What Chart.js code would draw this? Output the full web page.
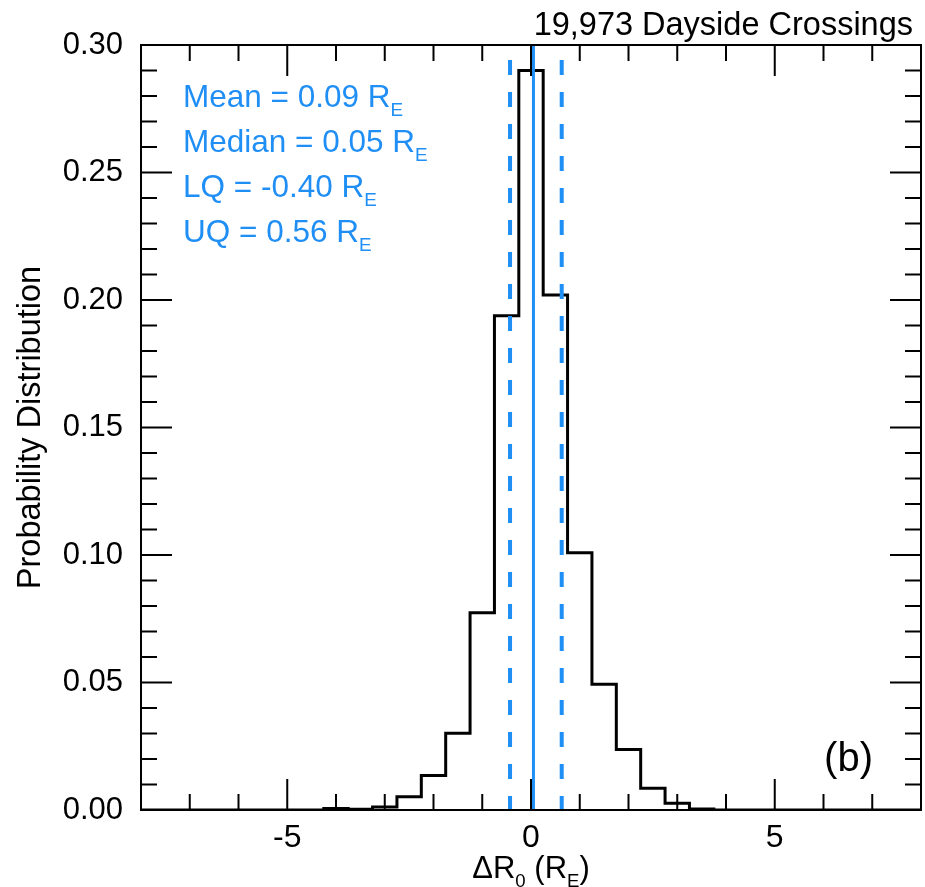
<!DOCTYPE html>
<html>
<head>
<meta charset="utf-8">
<script src="https://cdn.jsdelivr.net/npm/chart.js@4"></script>
<style>
  body { margin: 0; background: #fff; }
  #wrap { width: 925px; height: 887px; position: relative; }
</style>
</head>
<body>
<div id="wrap"><canvas id="histChart"></canvas></div>
<script>
// Histogram bins (centres, R_E) and fraction of crossings per bin
const binCenters = [-8, -7.5, -7, -6.5, -6, -5.5, -5, -4.5, -4, -3.5, -3, -2.5, -2, -1.5, -1, -0.5,
    0, 0.5, 1, 1.5, 2, 2.5, 3, 3.5, 4, 4.5, 5, 5.5, 6, 6.5, 7, 7.5, 8];
const probability = [0, 0, 0, 0, 0, 0, 0, 0, 0.0006, 0.0003, 0.0012, 0.0052, 0.0135, 0.0301, 0.0774, 0.1938,
    0.290, 0.202, 0.1009, 0.0493, 0.0237, 0.0085, 0.0026, 0.0004, 0, 0, 0, 0, 0, 0, 0, 0, 0];

// Vertical marker lines
const medianLine = 0.05;
const quartileLines = [-0.43, 0.63];

// Axis ticks
const xTickValues = [-5, 0, 5];
const yTickValues = [0, 0.05, 0.10, 0.15, 0.20, 0.25, 0.30];

const statsLabels = ['Mean = 0.09', 'Median = 0.05', 'LQ = -0.40', 'UQ = 0.56'];
const panelTitle = '19,973 Dayside Crossings';
const panelTag = '(b)';

const FONT = '"Liberation Sans", Helvetica, Arial, sans-serif';
const BLUE = '#1f8ef5';

// text with subscript pieces
function drawRich(ctx, parts, x, y, size) {
    let cx = x;
    parts.forEach(p => {
        const s = p.sub ? size * 0.6 : size;
        ctx.font = `${s}px ${FONT}`;
        ctx.fillText(p.t, cx, p.sub ? y + size * 0.3 : y);
        cx += ctx.measureText(p.t).width;
    });
    return cx - x;
}

function richWidth(ctx, parts, size) {
    let w = 0;
    parts.forEach(p => {
        ctx.font = `${p.sub ? size * 0.6 : size}px ${FONT}`;
        w += ctx.measureText(p.t).width;
    });
    return w;
}

const framePlugin = {
    id: 'frame',
    afterDraw(chart) {
        const { ctx, chartArea: a, scales } = chart;
        const xs = scales.x, ys = scales.y;
        ctx.save();
        ctx.strokeStyle = '#000';
        ctx.lineWidth = 2;
        ctx.strokeRect(a.left, a.top, a.right - a.left, a.bottom - a.top);

        // inward ticks on all four sides
        ctx.beginPath();
        for (let v = -8; v <= 8; v++) {
            const px = xs.getPixelForValue(v);
            const len = v % 5 === 0 ? 31 : 16;
            ctx.moveTo(px, a.bottom); ctx.lineTo(px, a.bottom - len);
            ctx.moveTo(px, a.top); ctx.lineTo(px, a.top + len);
        }
        for (let i = 0; i <= 30; i++) {
            const py = ys.getPixelForValue(i / 100);
            const len = i % 5 === 0 ? 31 : 16;
            ctx.moveTo(a.left, py); ctx.lineTo(a.left + len, py);
            ctx.moveTo(a.right, py); ctx.lineTo(a.right - len, py);
        }
        ctx.stroke();

        ctx.fillStyle = '#000';
        ctx.textBaseline = 'alphabetic';

        // panel title, top right
        ctx.font = `32.5px ${FONT}`;
        ctx.textAlign = 'right';
        ctx.fillText(panelTitle, 913, 35);

        // (b)
        ctx.font = `40px ${FONT}`;
        ctx.fillText(panelTag, 873, 771);

        // statistics
        ctx.textAlign = 'left';
        ctx.fillStyle = BLUE;
        statsLabels.forEach((s, i) => {
            drawRich(ctx, [{ t: s + ' R' }, { t: 'E', sub: true }], 183, 107 + i * 45, 31.5);
        });

        // x axis title
        ctx.fillStyle = '#000';
        const xt = [{ t: '\u0394R' }, { t: '0', sub: true }, { t: ' (R' }, { t: 'E', sub: true }, { t: ')' }];
        const w = richWidth(ctx, xt, 31);
        drawRich(ctx, xt, (a.left + a.right) / 2 - w / 2, 878, 31);

        // y axis title
        ctx.translate(40, (a.top + a.bottom) / 2);
        ctx.rotate(-Math.PI / 2);
        ctx.textAlign = 'center';
        ctx.font = `32.5px ${FONT}`;
        ctx.fillText('Probability Distribution', 0, 0);
        ctx.restore();
    }
};

new Chart(document.getElementById('histChart'), {
    type: 'line',
    data: {
        datasets: [
            {
                data: binCenters.map((x, i) => ({ x, y: probability[i] })),
                stepped: 'middle',
                borderColor: '#000',
                borderWidth: 3,
                pointRadius: 0,
                fill: false,
                order: 2
            },
            {
                data: [{ x: medianLine, y: 0 }, { x: medianLine, y: 0.3 }],
                borderColor: BLUE,
                borderWidth: 3,
                pointRadius: 0,
                order: 1
            },
            ...quartileLines.map(q => ({
                data: [{ x: q, y: 0.3 }, { x: q, y: 0 }],
                borderColor: BLUE,
                borderWidth: 4,
                borderDash: [15, 17],
                borderDashOffset: 17,
                pointRadius: 0,
                order: 1
            }))
        ]
    },
    options: {
        responsive: true,
        maintainAspectRatio: false,
        animation: false,
        layout: { padding: { top: 45, right: 4, left: 0, bottom: 0 } },
        scales: {
            x: {
                type: 'linear',
                min: -8,
                max: 8,
                grid: { display: false, drawTicks: false },
                border: { display: false },
                afterBuildTicks: s => { s.ticks = xTickValues.map(v => ({ value: v })); },
                afterFit: s => { s.height = 77; },
                ticks: {
                    color: '#000',
                    padding: 9,
                    maxRotation: 0,
                    font: { family: FONT, size: 32 },
                    callback: v => String(v)
                }
            },
            y: {
                min: 0,
                max: 0.3,
                grid: { display: false, drawTicks: false },
                border: { display: false },
                afterBuildTicks: s => { s.ticks = yTickValues.map(v => ({ value: v })); },
                afterFit: s => { s.width = 141; },
                ticks: {
                    color: '#000',
                    padding: 18,
                    font: { family: FONT, size: 31 },
                    callback: v => v.toFixed(2)
                }
            }
        },
        plugins: {
            legend: { display: false },
            tooltip: { enabled: false },
            title: { display: false }
        }
    },
    plugins: [framePlugin]
});
</script>
</body>
</html>
